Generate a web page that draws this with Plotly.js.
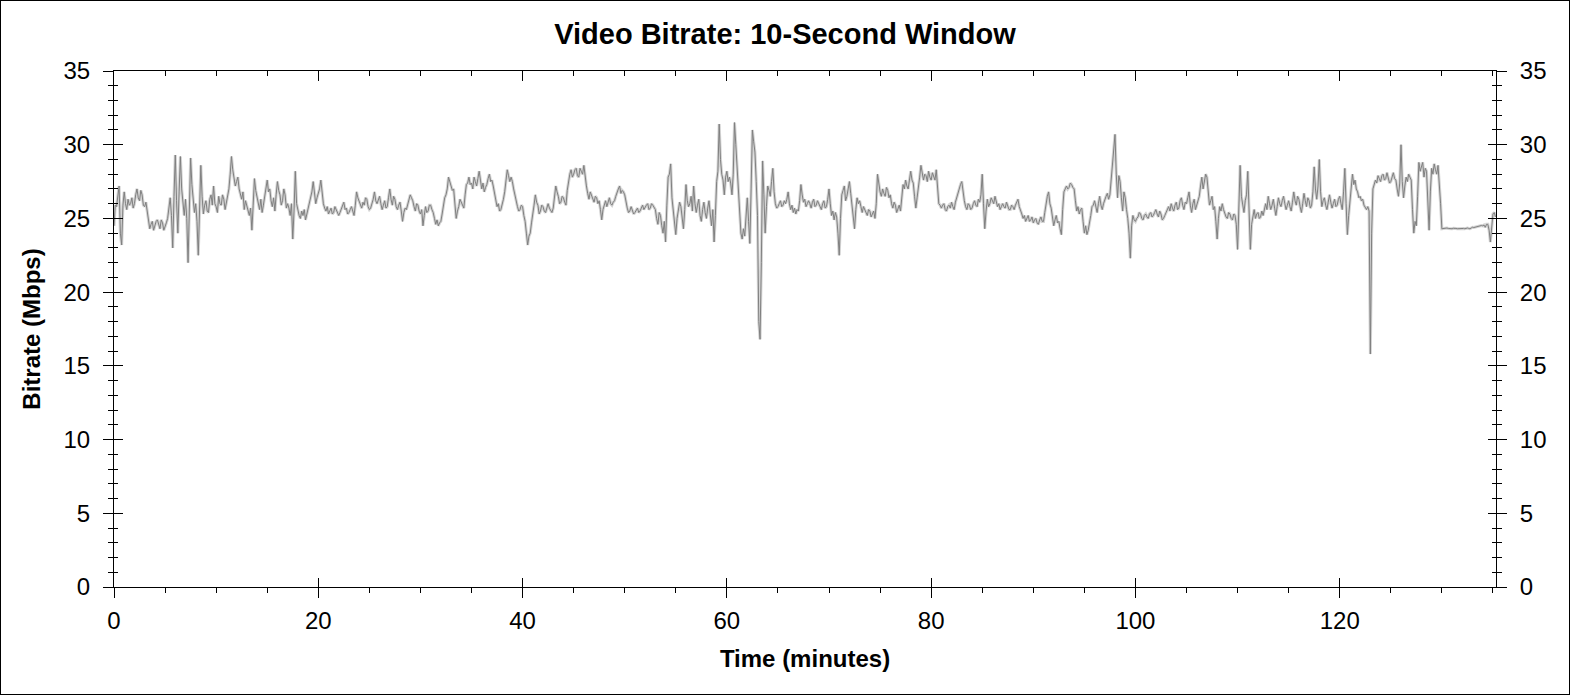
<!DOCTYPE html>
<html>
<head>
<meta charset="utf-8">
<script src="https://cdn.plot.ly/plotly-3.0.1.min.js"></script>
<style>
html,body{margin:0;padding:0;background:#fff;}
#chart{width:1570px;height:695px;box-sizing:border-box;border:1px solid #000;}
</style>
</head>
<body>
<div id="chart"></div>
<script>
// Time axis: one sample every 0.125 minutes starting at 0
const timeStart = 0;
const timeStep = 0.125;
// Video bitrate (Mbps), 10-second window (8 samples per minute per row group)
const bitrate = [
24.5,25.9,25.8,26.6,27.2,24.0,23.2,25.9, 26.8,26.0,25.6,26.3,25.9,26.0,26.4,25.7,
26.0,26.6,27.0,26.4,26.2,26.9,26.6,25.9, 25.8,26.1,25.4,25.0,24.3,24.6,24.8,24.2,
24.5,24.8,24.9,24.5,24.3,24.9,24.7,24.2, 24.4,24.7,25.0,25.8,26.4,25.2,23.0,26.5,
29.3,26.2,24.0,26.8,29.2,27.0,26.0,25.2, 26.3,25.0,22.0,25.8,29.1,27.3,26.0,25.4,
26.0,24.8,22.5,26.2,28.6,26.5,25.3,25.9, 26.2,25.5,25.4,26.3,26.6,25.9,27.2,26.0,
25.8,25.4,26.5,26.0,25.9,26.6,26.3,25.6, 26.0,26.5,27.0,28.0,29.2,28.3,27.8,27.2,
27.5,27.8,27.0,26.6,26.3,26.8,25.6,26.2, 25.8,25.4,25.2,25.7,24.2,25.9,27.7,26.9,
26.5,26.0,25.6,26.3,25.4,25.9,26.5,27.0, 27.6,26.8,27.0,26.2,25.8,26.4,25.5,26.6,
27.5,26.9,26.6,25.9,26.2,27.0,26.6,25.7, 26.0,25.7,25.2,26.0,23.6,25.5,28.2,26.0,
25.5,25.2,25.0,25.5,25.2,25.6,24.9,25.3, 25.7,26.0,26.5,26.8,27.5,26.6,26.0,26.4,
26.7,27.0,27.6,26.5,26.0,25.7,25.5,25.8, 25.3,25.5,25.7,25.3,25.4,25.8,25.6,25.4,
25.2,25.4,25.6,25.9,26.1,25.6,25.7,25.3, 25.4,25.6,25.8,25.5,25.2,25.9,26.8,26.4,
26.2,25.9,25.7,26.1,25.9,26.4,26.3,25.8, 25.6,25.7,26.0,26.3,26.8,26.2,26.0,26.3,
26.5,26.0,25.6,25.9,26.2,25.7,25.8,26.4, 27.0,26.3,25.9,26.5,26.3,25.8,25.6,25.9,
26.1,25.5,24.8,25.4,25.7,25.6,26.0,26.3, 26.6,26.4,26.2,25.8,25.5,26.0,25.9,25.5,
25.3,25.6,24.5,25.2,25.8,25.4,25.5,25.9, 25.9,25.6,25.4,25.0,24.6,24.9,24.5,24.7,
24.8,25.3,26.0,26.4,26.6,27.0,27.8,27.5, 27.3,26.9,27.0,26.0,25.0,25.5,25.8,26.3,
26.1,26.0,25.7,26.6,27.3,27.4,27.8,27.3, 27.4,27.0,27.8,27.5,27.2,27.7,28.2,27.6,
27.0,27.4,26.8,27.1,27.3,27.7,28.0,27.5, 27.6,27.2,26.8,26.3,25.8,26.0,25.5,25.6,
25.9,26.3,26.8,27.6,28.3,27.9,27.5,27.8, 27.5,27.0,26.6,26.0,25.8,25.5,25.6,25.9,
25.8,25.2,24.8,24.0,23.2,23.8,24.0,24.7, 25.2,25.9,26.6,26.1,25.9,25.3,25.5,25.9,
25.8,25.5,25.4,25.8,26.0,25.7,25.5,25.4, 25.7,26.3,27.2,26.8,26.5,26.0,26.1,26.5,
26.4,26.1,25.9,26.9,27.6,28.0,28.3,27.8, 28.0,28.3,28.4,27.9,27.8,28.4,28.2,28.0,
28.6,27.8,27.2,26.7,26.3,26.8,26.6,26.3, 26.1,26.5,26.4,26.0,26.2,25.6,24.9,25.6,
26.0,26.2,25.8,26.1,26.4,26.0,25.9,26.1, 26.2,26.5,26.8,27.0,27.2,26.7,26.9,26.8,
26.6,26.1,25.7,25.4,25.5,25.8,25.6,25.3, 25.4,25.6,25.7,25.4,25.5,25.7,25.9,25.6,
25.8,25.9,26.0,25.6,25.7,26.0,25.9,25.7, 25.6,25.0,24.6,25.4,25.2,24.5,24.0,24.8,
23.4,25.9,27.8,28.0,28.7,26.4,25.6,24.8, 23.9,25.0,25.5,26.1,25.8,25.1,24.3,25.6,
27.3,26.2,25.8,26.0,26.5,25.5,27.2,26.0, 25.4,25.9,26.3,25.2,24.8,25.6,26.1,25.4,
25.0,25.7,26.2,25.3,24.5,25.6,23.4,25.2, 27.5,28.2,31.4,29.0,28.0,27.6,26.6,27.8,
28.2,27.5,27.8,27.4,26.6,28.0,31.5,30.0, 28.5,26.8,25.2,24.0,23.6,24.3,23.8,25.0,
26.4,24.8,23.3,27.0,31.0,30.2,29.5,27.5, 25.2,18.0,16.8,22.0,28.9,26.6,24.0,25.8,
27.2,26.9,26.5,27.5,28.4,26.8,26.0,25.7, 25.8,26.0,26.2,25.8,25.9,26.2,26.0,26.3,
26.8,26.0,25.6,25.9,25.4,25.7,25.3,25.6, 25.5,26.2,27.3,26.6,26.1,26.3,25.8,26.0,
26.2,26.0,25.7,26.1,26.3,25.8,25.9,26.2, 26.0,25.8,25.6,26.0,26.2,25.7,25.8,26.3,
27.0,26.0,25.2,25.5,24.9,25.4,25.1,24.0, 22.5,25.0,26.6,26.9,27.2,26.2,26.5,27.0,
27.5,26.7,26.0,25.4,24.3,25.6,26.4,26.0, 26.2,25.8,25.4,25.8,25.6,25.3,25.2,25.6,
25.5,25.1,25.3,25.5,25.0,26.0,28.0,27.2, 26.8,26.5,27.0,26.7,26.5,27.1,26.9,26.4,
26.6,26.0,25.7,26.1,25.9,25.4,25.6,25.9, 25.5,26.4,27.3,27.0,27.6,27.2,27.0,27.6,
28.2,27.6,27.4,26.5,25.7,26.4,27.0,27.8, 28.6,27.9,27.6,28.0,27.9,27.5,28.2,27.8,
27.6,28.1,27.9,27.6,28.3,27.2,26.0,25.9, 25.7,25.9,26.0,25.6,25.5,25.8,25.9,25.7,
26.1,25.8,25.6,26.1,26.4,26.8,27.0,27.3, 27.5,26.7,26.2,25.8,25.6,26.0,25.9,25.6,
25.7,26.0,26.2,25.9,25.8,26.3,26.1,26.6, 28.0,26.0,24.3,25.5,26.3,25.8,26.0,26.4,
26.2,26.0,26.5,26.1,25.8,26.0,25.6,25.8, 26.0,25.8,25.7,26.1,25.9,25.6,25.6,25.9,
25.8,25.6,25.9,26.1,26.3,25.8,25.6,25.3, 25.0,25.2,24.8,25.0,25.2,24.8,24.9,25.1,
24.7,24.9,25.0,24.7,24.6,24.9,25.1,24.8, 24.8,25.4,26.0,26.5,26.8,26.0,25.7,25.0,
24.5,24.9,25.2,24.7,24.8,24.3,23.9,25.6, 26.8,27.0,27.2,27.0,27.1,27.4,27.3,27.1,
27.0,26.2,25.5,25.8,25.3,25.6,25.7,24.8, 24.0,24.5,23.9,24.2,24.6,25.2,25.8,25.9,
26.2,25.8,25.4,26.0,26.5,25.9,25.6,26.0, 26.3,26.5,26.7,26.3,26.6,27.5,28.9,29.5,
30.7,28.0,26.4,27.9,27.5,26.4,25.5,26.8, 26.4,25.6,25.0,24.0,22.3,24.5,25.2,24.9,
24.8,25.0,25.1,25.4,25.3,25.0,24.9,25.2, 25.3,25.1,25.0,25.3,25.4,25.1,25.2,25.4,
25.6,25.3,25.1,25.5,25.3,24.9,25.0,25.2, 25.4,25.6,25.8,25.5,26.0,25.7,25.5,25.9,
26.1,25.6,25.7,26.2,26.4,25.9,25.6,26.1, 26.0,26.4,26.8,25.9,25.4,26.0,26.3,25.6,
25.9,26.2,26.5,27.2,27.8,27.0,27.5,28.0, 27.8,26.6,25.9,26.2,26.5,25.6,25.8,24.8,
23.6,25.0,25.8,25.5,26.0,25.6,25.3,25.1, 25.0,25.4,25.3,25.0,24.9,25.3,25.2,24.6,
22.9,26.0,28.6,26.5,25.8,25.4,26.2,26.6, 28.2,25.2,22.9,24.6,25.3,25.6,25.0,25.3,
25.4,25.0,25.1,25.5,25.2,25.7,26.0,25.6, 26.5,26.0,25.6,25.9,26.3,25.7,25.2,25.8,
26.4,26.0,25.8,26.2,26.5,26.0,25.6,25.9, 26.2,25.8,25.5,26.1,26.8,26.2,25.9,26.5,
26.3,25.8,25.4,26.0,26.7,26.2,25.8,26.4, 26.2,25.7,25.9,26.8,28.5,27.0,26.3,27.2,
29.0,26.8,25.8,26.2,26.4,25.9,25.6,26.1, 26.6,26.1,25.7,26.0,26.3,25.8,25.9,26.3,
26.5,26.0,25.6,26.8,28.4,26.0,23.9,25.2, 26.1,27.0,28.0,27.3,27.6,27.0,26.8,26.4,
26.5,26.2,26.3,25.9,25.7,25.6,25.8,25.5, 15.8,24.0,27.0,27.3,27.6,27.4,27.9,27.7,
27.5,27.9,28.0,27.6,27.7,28.1,27.8,27.4, 27.5,27.8,28.1,27.7,27.6,27.0,26.5,27.4,
30.0,27.5,26.4,27.2,27.8,27.5,28.0,27.8, 27.6,25.6,24.0,24.8,24.5,26.5,28.8,28.2,
28.5,28.8,27.8,28.4,28.2,26.4,24.2,26.8, 28.4,28.0,28.7,28.3,28.0,28.6,27.5,26.0,
24.3,24.32,24.3,24.33,24.35,24.32,24.3,24.31, 24.3,24.33,24.35,24.32,24.3,24.31,24.3,24.32,
24.3,24.32,24.3,24.34,24.35,24.32,24.3,24.35, 24.4,24.38,24.4,24.43,24.45,24.5,24.5,24.52,
24.5,24.55,24.4,24.6,24.6,24.2,23.4,24.5, 25.3,25.4,25.1
];
const titleText = "Video Bitrate: 10-Second Window";
const xTitle = "Time (minutes)";
const yTitle = "Bitrate (Mbps)";
const xRange = [0, 135.3];
const yRange = [0, 35];

const FONT = "Liberation Sans, Arial, sans-serif";
const tickFont = {family: FONT, size: 24, color: "#000"};

const traces = [
  {type: "scatter", mode: "lines", x0: timeStart, dx: timeStep, y: bitrate,
   line: {color: "#d4d4d4", width: 3}, hoverinfo: "skip", showlegend: false},
  {type: "scatter", mode: "lines", x0: timeStart, dx: timeStep, y: bitrate,
   line: {color: "#808080", width: 1}, showlegend: false},
  // empty traces so the overlaid tick-only axes get drawn
  {type: "scatter", mode: "lines", x: [null], y: [null], xaxis: "x2", yaxis: "y", showlegend: false},
  {type: "scatter", mode: "lines", x: [null], y: [null], xaxis: "x3", yaxis: "y", showlegend: false},
  {type: "scatter", mode: "lines", x: [null], y: [null], xaxis: "x", yaxis: "y2", showlegend: false},
  {type: "scatter", mode: "lines", x: [null], y: [null], xaxis: "x", yaxis: "y3", showlegend: false},
  {type: "scatter", mode: "lines", x: [null], y: [null], xaxis: "x", yaxis: "y4", showlegend: false}
];

const common = {showgrid: false, zeroline: false, tickcolor: "#000", tickwidth: 1, fixedrange: true, autorange: false};

const layout = {
  width: 1568, height: 693,
  margin: {l: 113, r: 73, t: 70, b: 107, pad: 0},
  paper_bgcolor: "#fff", plot_bgcolor: "#fff",
  showlegend: false,
  hovermode: false,
  title: {text: "<b>" + titleText + "</b>", font: {family: FONT, size: 29, color: "#000"},
          xref: "container", x: 0.5, xanchor: "center", yref: "container", y: 1 - 33/693, yanchor: "middle"},
  xaxis: Object.assign({}, common, {
    range: xRange, tick0: 0, dtick: 20, side: "bottom", anchor: "y",
    showline: true, linecolor: "#000", linewidth: 1, mirror: false,
    ticks: "outside", ticklen: 10, tickfont: tickFont, ticklabelstandoff: 2,
    minor: {dtick: 5, tick0: 0, ticks: "outside", ticklen: 5, tickcolor: "#000", showgrid: false},
    title: {text: "<b>" + xTitle + "</b>", font: {family: FONT, size: 24, color: "#000"}, standoff: 17}
  }),
  xaxis2: Object.assign({}, common, {
    range: xRange, tick0: 0, dtick: 20, overlaying: "x", side: "bottom", anchor: "y",
    showline: false, ticks: "inside", ticklen: 9, showticklabels: false
  }),
  xaxis3: Object.assign({}, common, {
    range: xRange, tick0: 0, dtick: 20, overlaying: "x", side: "top", anchor: "y",
    showline: true, linecolor: "#000", linewidth: 1,
    ticks: "inside", ticklen: 10, showticklabels: false,
    minor: {dtick: 5, tick0: 0, ticks: "inside", ticklen: 5, tickcolor: "#000", showgrid: false}
  }),
  yaxis: Object.assign({}, common, {
    range: yRange, tick0: 0, dtick: 5, side: "left", anchor: "x",
    showline: true, linecolor: "#000", linewidth: 1,
    ticks: "outside", ticklen: 10, tickfont: tickFont, ticklabelstandoff: 8,
    minor: {dtick: 1, tick0: 0, ticks: "outside", ticklen: 5, tickcolor: "#000", showgrid: false},
    title: {text: "<b>" + yTitle + "</b>", font: {family: FONT, size: 24, color: "#000"}, standoff: 16}
  }),
  yaxis2: Object.assign({}, common, {
    range: yRange, tick0: 0, dtick: 5, overlaying: "y", side: "left", anchor: "x",
    showline: false, ticks: "inside", ticklen: 9, showticklabels: false,
    minor: {dtick: 1, tick0: 0, ticks: "inside", ticklen: 4, tickcolor: "#000", showgrid: false}
  }),
  yaxis3: Object.assign({}, common, {
    range: yRange, tick0: 0, dtick: 5, overlaying: "y", side: "right", anchor: "x",
    showline: true, linecolor: "#000", linewidth: 1,
    ticks: "outside", ticklen: 10, tickfont: tickFont, ticklabelstandoff: 8,
    minor: {dtick: 1, tick0: 0, ticks: "outside", ticklen: 5, tickcolor: "#000", showgrid: false}
  }),
  yaxis4: Object.assign({}, common, {
    range: yRange, tick0: 0, dtick: 5, overlaying: "y", side: "right", anchor: "x",
    showline: false, ticks: "inside", ticklen: 8, showticklabels: false,
    minor: {dtick: 1, tick0: 0, ticks: "inside", ticklen: 4, tickcolor: "#000", showgrid: false}
  })
};

Plotly.newPlot("chart", traces, layout, {displayModeBar: false, staticPlot: true});
</script>
</body>
</html>
